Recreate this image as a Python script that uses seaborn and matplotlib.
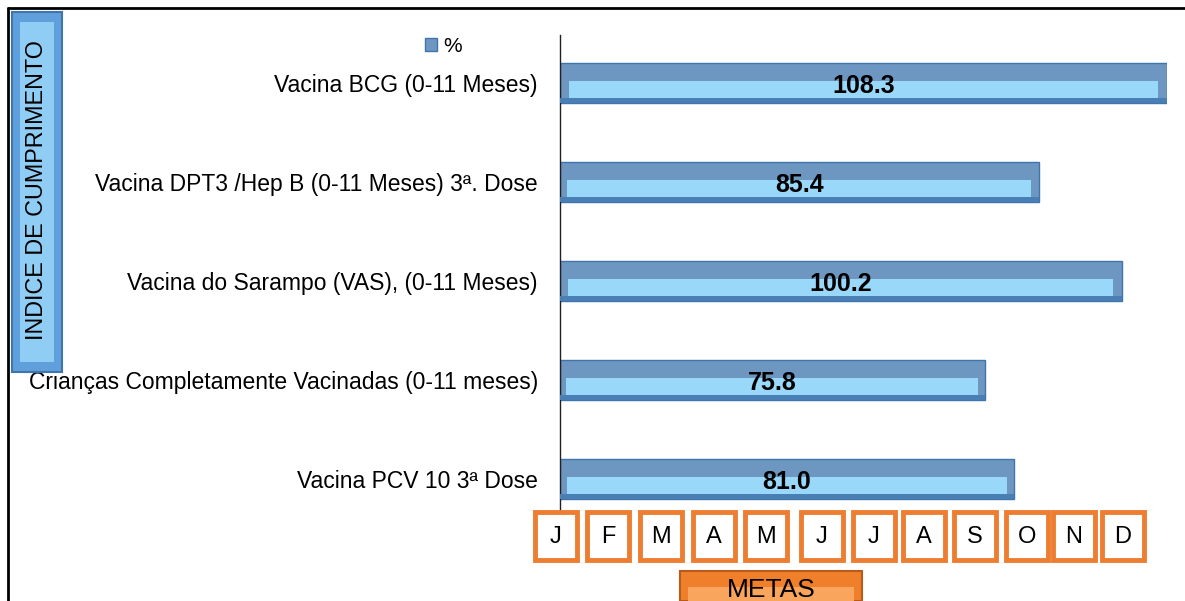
import pandas as pd
import seaborn as sns
import matplotlib.pyplot as plt
from matplotlib.patches import Rectangle

# dados do gráfico
indicadores = ['Vacina BCG (0-11 Meses)',
               'Vacina DPT3 /Hep B (0-11 Meses) 3ª. Dose',
               'Vacina do Sarampo (VAS), (0-11 Meses)',
               'Crianças Completamente Vacinadas (0-11 meses)',
               'Vacina PCV 10 3ª Dose']
valores = [108.3, 85.4, 100.2, 75.8, 81.0]
meses = ['J', 'F', 'M', 'A', 'M', 'J', 'J', 'A', 'S', 'O', 'N', 'D']

df = pd.DataFrame({'indicador': indicadores, 'valor': valores, 'serie': '%'})

sns.set_style('white')
plt.rcParams['font.family'] = ['Liberation Sans', 'DejaVu Sans']
plt.rcParams['text.color'] = 'black'
plt.rcParams['ytick.color'] = 'black'

fig = plt.figure(figsize=(11.85, 6.01), dpi=100)
ax = fig.add_axes([0.4726, 0.1514, 0.5122, 0.7904])

azul = '#5f97cf'
sns.barplot(data=df, y='indicador', x='valor', hue='serie', orient='h',
            palette=[azul], width=0.4, ax=ax, edgecolor='#3f74ad', linewidth=1)

# efeito de relevo: faixa clara na metade de baixo
for p in list(ax.patches):
    x0, y0 = p.get_x(), p.get_y()
    w, h = p.get_width(), p.get_height()
    ax.add_patch(Rectangle((x0 + w * 0.015, y0 + h * 0.45), w * 0.97, h * 0.42,
                           facecolor='#9ad8fa', edgecolor='none', zorder=3))
    ax.add_patch(Rectangle((x0, y0 + h * 0.87), w, h * 0.13,
                           facecolor='#4a7fb6', edgecolor='none', zorder=3))

for i, v in enumerate(valores):
    ax.text(v / 2, i + 0.03, f'{v:.1f}', ha='center', va='center', fontsize=18,
            fontweight='bold', color='black', zorder=5)

ax.set_xlim(0, 108.3)
ax.set_ylim(4.313, -0.485)
ax.set_xlabel('')
ax.set_ylabel('')
ax.set_xticks([])
ax.tick_params(axis='y', length=0, labelsize=16.5, pad=16, labelcolor='black')
for s in ['top', 'right', 'bottom']:
    ax.spines[s].set_visible(False)
ax.spines['left'].set_color('#202020')
ax.spines['left'].set_linewidth(1)

ax.legend(loc='center', bbox_to_anchor=(0.374, 0.923), bbox_transform=fig.transFigure,
          frameon=False, fontsize=15, handlelength=0.6, handleheight=0.6,
          handletextpad=0.3)

# moldura
fig.add_artist(plt.Line2D([8 / 1185, 8 / 1185], [0, 1 - 8 / 601], color='black',
                          lw=2, transform=fig.transFigure))
fig.add_artist(plt.Line2D([8 / 1185, 1], [1 - 8 / 601, 1 - 8 / 601], color='black',
                          lw=2, transform=fig.transFigure))

# caixa lateral
fig.add_artist(Rectangle((12 / 1185, 1 - 372 / 601), 50 / 1185, 360 / 601,
                         facecolor='#5f9fdc', edgecolor='#3f74ad', lw=1.5,
                         transform=fig.transFigure))
fig.add_artist(Rectangle((20 / 1185, 1 - 362 / 601), 34 / 1185, 340 / 601,
                         facecolor='#8fcdf5', edgecolor='none',
                         transform=fig.transFigure))
fig.text(37 / 1185, 1 - 190 / 601, 'INDICE DE CUMPRIMENTO', rotation=90,
         ha='center', va='center', fontsize=16.8, color='black')

# meses
centros = [556, 608, 661, 714, 766, 822, 874, 924, 975, 1027, 1074, 1123]
for cx, m in zip(centros, meses):
    fig.add_artist(Rectangle(((cx - 21) / 1185, 1 - 560 / 601), 42 / 1185, 48 / 601,
                             facecolor='white', edgecolor='#ed7d31', lw=3.5,
                             transform=fig.transFigure))
    fig.text(cx / 1185, 1 - 537 / 601, m, ha='center', va='center',
             fontsize=17, color='black')

# botão METAS
fig.add_artist(Rectangle((680 / 1185, 0), 182 / 1185, 30 / 601,
                         facecolor='#f07f2c', edgecolor='#b85a1a', lw=1.5,
                         transform=fig.transFigure))
fig.add_artist(Rectangle((688 / 1185, 0), 166 / 1185, 14 / 601,
                         facecolor='#f9a55e', edgecolor='none',
                         transform=fig.transFigure))
fig.text(771 / 1185, 1 - 590 / 601, 'METAS', ha='center', va='center',
         fontsize=19, color='black')

fig.savefig('out.png', dpi=100)
